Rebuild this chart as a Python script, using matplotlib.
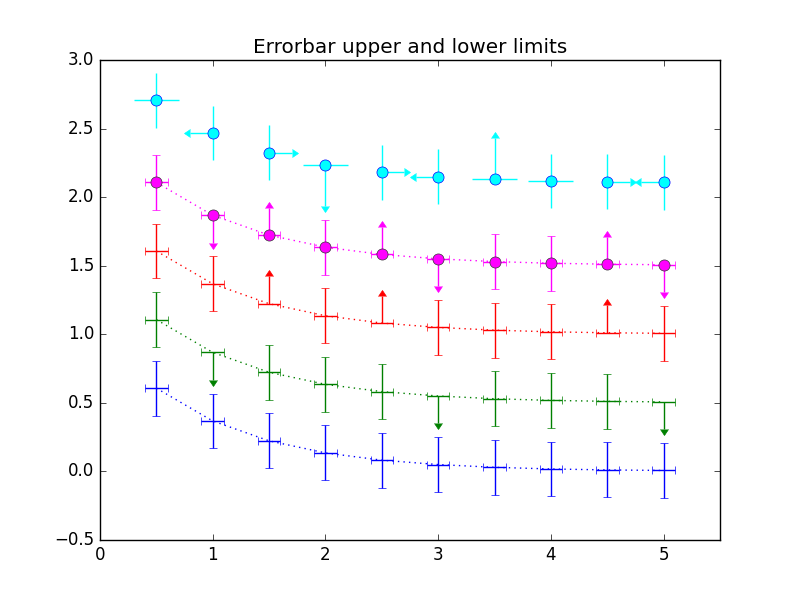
import numpy as np
import matplotlib
matplotlib.use("Agg")
import matplotlib.pyplot as plt

plt.style.use("classic")

# values
x = [0.5, 1.0, 1.5, 2.0, 2.5, 3.0, 3.5, 4.0, 4.5, 5.0]
y_blue = [0.607, 0.368, 0.223, 0.135, 0.082, 0.050, 0.030, 0.018, 0.011, 0.007]
y_green = [1.107, 0.868, 0.723, 0.635, 0.582, 0.550, 0.530, 0.518, 0.511, 0.507]
y_red = [1.607, 1.368, 1.223, 1.135, 1.082, 1.050, 1.030, 1.018, 1.011, 1.007]
y_magenta = [2.107, 1.868, 1.723, 1.635, 1.582, 1.550, 1.530, 1.518, 1.511, 1.507]
y_cyan = [2.707, 2.468, 2.323, 2.235, 2.182, 2.150, 2.130, 2.118, 2.111, 2.107]

xerr = 0.1
yerr = 0.2
cyan_xerr = 0.2
cyan_yerr = [0.2, 0.2, 0.2, 0.3, 0.2, 0.2, 0.3, 0.2, 0.2, 0.2]

uplims = [False, True, False, False, False, True, False, False, False, True]
lolims = [False, False, True, False, True, False, False, False, True, False]
cyan_uplims = [False, False, False, True, False, False, False, False, False, False]
cyan_lolims = [False, False, False, False, False, False, True, False, False, False]

fig = plt.figure(figsize=(8, 6), dpi=100)
ax = fig.add_subplot(1, 1, 1)

ax.errorbar(x, y_blue, xerr=xerr, yerr=yerr, ls="dotted", color="blue")
ax.errorbar(x, y_green, xerr=xerr, yerr=yerr, uplims=uplims, ls="dotted",
            color="green")
ax.errorbar(x, y_red, xerr=xerr, yerr=yerr, lolims=lolims, ls="dotted",
            color="red")
ax.errorbar(x, y_magenta, xerr=xerr, yerr=yerr, lolims=lolims, uplims=uplims,
            marker="o", ms=8, mec="#333333", ls="dotted", color="magenta")
ax.errorbar(x, y_cyan, xerr=cyan_xerr, yerr=cyan_yerr,
            xlolims=lolims, xuplims=uplims,
            uplims=cyan_uplims, lolims=cyan_lolims,
            marker="o", ms=8, mec="blue", ls="none", capsize=0, color="cyan")

ax.set_xlim(0, 5.5)
ax.set_ylim(-0.5, 3.0)
ax.set_title("Errorbar upper and lower limits")

fig.savefig("out.png", dpi=100)
